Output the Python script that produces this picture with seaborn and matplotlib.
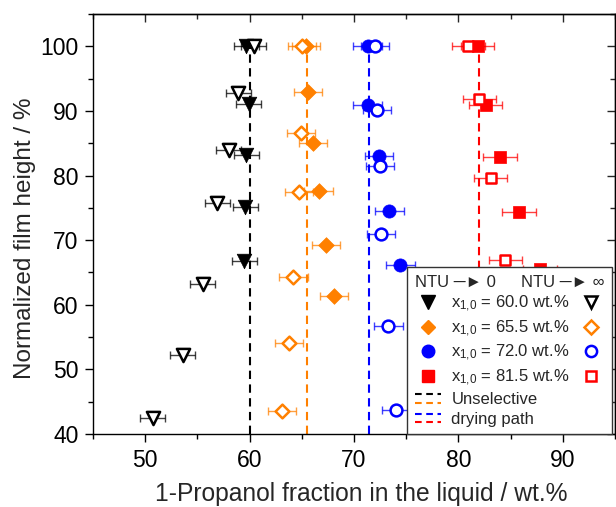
import numpy as np
import pandas as pd
import matplotlib
matplotlib.use("Agg")
import matplotlib.pyplot as plt
import seaborn as sns
from matplotlib.lines import Line2D
from matplotlib.ticker import MultipleLocator

# ---------------- data ----------------
# x_{1,0} = 60.0 wt.%
x60_f = [59.7, 59.9, 59.7, 59.6, 59.5]
h60_f = [100, 91.1, 83.2, 75.1, 66.8]
x60_o = [60.4, 58.9, 58.0, 56.9, 55.5, 53.6, 50.7]
h60_o = [100, 92.8, 84.0, 75.7, 63.2, 52.2, 42.5]
# x_{1,0} = 65.5 wt.%
x655_f = [65.4, 65.6, 66.1, 66.6, 67.3, 68.1]
h655_f = [100, 92.9, 85.1, 77.6, 69.2, 61.3]
x655_o = [65.0, 64.95, 64.7, 64.2, 63.8, 63.1]
h655_o = [100, 86.6, 77.5, 64.3, 54.1, 43.5]
# x_{1,0} = 72.0 wt.%
x72_f = [71.3, 71.3, 72.4, 73.4, 74.45]
h72_f = [100, 90.9, 83.0, 74.5, 66.2]
x72_o = [72.0, 72.2, 72.5, 72.6, 73.3, 74.0]
h72_o = [100, 90.2, 81.5, 71.0, 56.7, 43.7]
# x_{1,0} = 81.5 wt.%
x815_f = [81.85, 82.6, 84.0, 85.8, 87.8]
h815_f = [100, 90.9, 82.9, 74.4, 65.5]
x815_o = [80.95, 82.0, 83.1, 84.5]
h815_o = [100, 91.8, 79.6, 66.9]

# horizontal error (wt.%) per series
err = {"60.0": 1.2, "65.5": 1.35, "72.0": 1.35, "81.5": 1.6}
# unselective drying path positions
unsel_x = [60.0, 65.5, 71.4, 82.0]
unsel_h = [40, 100]

series_names = ["60.0", "65.5", "72.0", "81.5"]
colors = ["#000000", "#FF8000", "#0000FF", "#FF0000"]
markers = ["v", "D", "o", "s"]
msizes = [10.5, 8.0, 9.5, 8.5]
xticks = [50, 60, 70, 80, 90]
yticks = [40, 50, 60, 70, 80, 90, 100]

rows = []
for name, xf, hf, xo, ho in zip(series_names,
                                [x60_f, x655_f, x72_f, x815_f], [h60_f, h655_f, h72_f, h815_f],
                                [x60_o, x655_o, x72_o, x815_o], [h60_o, h655_o, h72_o, h815_o]):
    for a, b in zip(xf, hf):
        rows.append((name, "filled", a, b))
    for a, b in zip(xo, ho):
        rows.append((name, "open", a, b))
df = pd.DataFrame(rows, columns=["series", "kind", "x", "h"])

# ---------------- style ----------------
sns.set_theme(style="ticks")
plt.rcParams["font.family"] = ["Liberation Sans", "DejaVu Sans"]
plt.rcParams["mathtext.fontset"] = "custom"
plt.rcParams["mathtext.rm"] = "Liberation Sans"
plt.rcParams["mathtext.it"] = "Liberation Sans:italic"
plt.rcParams["mathtext.default"] = "regular"

fig = plt.figure(figsize=(6.16, 5.07), dpi=100)
ax = fig.add_axes([93 / 616, (507 - 434) / 507, 522 / 616, 420 / 507])

# unselective lines
for xv, c in zip(unsel_x, colors):
    ax.vlines(xv, unsel_h[0], unsel_h[1], colors=c, linestyles=(0, (4, 2.6)),
              linewidth=1.5, zorder=1)

for name, c, m, ms in zip(series_names, colors, markers, msizes):
    for kind in ["filled", "open"]:
        sub = df[(df.series == name) & (df.kind == kind)]
        ax.errorbar(sub.x, sub.h, xerr=err[name], fmt="none", ecolor=c, alpha=0.75,
                    elinewidth=1.0, capsize=3, capthick=1.0, zorder=2)
        if kind == "filled":
            sns.scatterplot(data=sub, x="x", y="h", marker=m, s=ms ** 2, color=c,
                            edgecolor=c, linewidth=0.5, ax=ax, zorder=3, legend=False)
        else:
            sns.scatterplot(data=sub, x="x", y="h", marker=m, s=(ms - 1) ** 2, color="white",
                            edgecolor=c, linewidth=1.8, ax=ax, zorder=4, legend=False)

ax.set_xlim(45, 95)
ax.set_ylim(40, 105)
ax.set_xticks(xticks)
ax.set_yticks(yticks)
ax.xaxis.set_minor_locator(MultipleLocator(5))
ax.yaxis.set_minor_locator(MultipleLocator(5))
ax.tick_params(which="major", direction="out", length=5.5, width=1.0, labelsize=16.5,
               pad=5, color="black", labelcolor="black")
ax.tick_params(which="minor", direction="out", length=3.5, width=1.0, color="black")
for sp in ax.spines.values():
    sp.set_visible(True)
    sp.set_linewidth(1.0)
    sp.set_color("black")

# inward ticks on top and right
secx = ax.secondary_xaxis("top")
secx.set_xticks(xticks)
secx.xaxis.set_minor_locator(MultipleLocator(5))
secx.tick_params(which="major", direction="in", length=5.5, width=1.0, labeltop=False)
secx.tick_params(which="minor", direction="in", length=3.5, width=1.0)
secx.spines["top"].set_linewidth(1.0)
secy = ax.secondary_yaxis("right")
secy.set_yticks(yticks)
secy.yaxis.set_minor_locator(MultipleLocator(5))
secy.tick_params(which="major", direction="in", length=5.5, width=1.0, labelright=False)
secy.tick_params(which="minor", direction="in", length=3.5, width=1.0)
secy.spines["right"].set_linewidth(1.0)

ax.set_xlabel("1-Propanol fraction in the liquid / wt.%", fontsize=17.7, va="baseline")
ax.xaxis.set_label_coords(0.513, -0.1595)
ax.set_ylabel("Normalized film height / %", fontsize=17.5)
ax.yaxis.set_label_coords(-0.109, 0.467)


# ---------------- legend ----------------
class PairHandler:
    def __init__(self, cols):
        self.cols = cols

    def legend_artist(self, legend, orig_handle, fontsize, handlebox):
        w, h = handlebox.width, handlebox.height
        yc = h / 2
        first = None
        for c, dy in zip(self.cols, [3.0, -3.0]):
            ln = Line2D([0, w], [yc + dy, yc + dy], color=c, linestyle=(0, (3.2, 2.2)),
                        linewidth=1.5)
            handlebox.add_artist(ln)
            first = first or ln
        return first


class PairKey:
    pass


key_a, key_b = PairKey(), PairKey()
labels = [r"x$_{1{,}0}$ = " + n + " wt.%" for n in series_names]
h_filled = [Line2D([], [], ls="none", marker=m, ms=ms * 0.95, color=c, mec=c)
            for c, m, ms in zip(colors, markers, msizes)]
h_open = [Line2D([], [], ls="none", marker=m, ms=(ms - 1) * 0.95, mfc="white", mec=c, mew=1.8)
          for c, m, ms in zip(colors, markers, msizes)]

fs = 12
common = dict(fontsize=fs, title_fontsize=fs, handlelength=1.6, handletextpad=0.6,
              labelspacing=0.26, borderpad=0.45, borderaxespad=0.0)
leg1 = ax.legend(h_filled + [key_a, key_b], labels + ["Unselective", "drying path"],
                 handler_map={key_a: PairHandler([colors[0], colors[1]]),
                              key_b: PairHandler([colors[2], colors[3]])},
                 title="NTU \u2500\u25ba 0", alignment="left", loc="upper left",
                 bbox_to_anchor=(0.602, 0.398, 0.392, 0.0), mode="expand",
                 frameon=True, fancybox=False, framealpha=1.0, edgecolor="#333333",
                 **common)
leg1.get_frame().set_linewidth(1.0)
ax.add_artist(leg1)
# second column of open markers: hidden spacer labels of identical height keep rows aligned
leg2 = ax.legend(h_open, labels, title="NTU \u2500\u25ba \u221e",
                 alignment="right", loc="upper right", bbox_to_anchor=(0.994, 0.398),
                 markerfirst=False, frameon=False, **common)
for t in leg2.get_texts():
    t.set_visible(False)

fig.savefig("out.png", dpi=100)
